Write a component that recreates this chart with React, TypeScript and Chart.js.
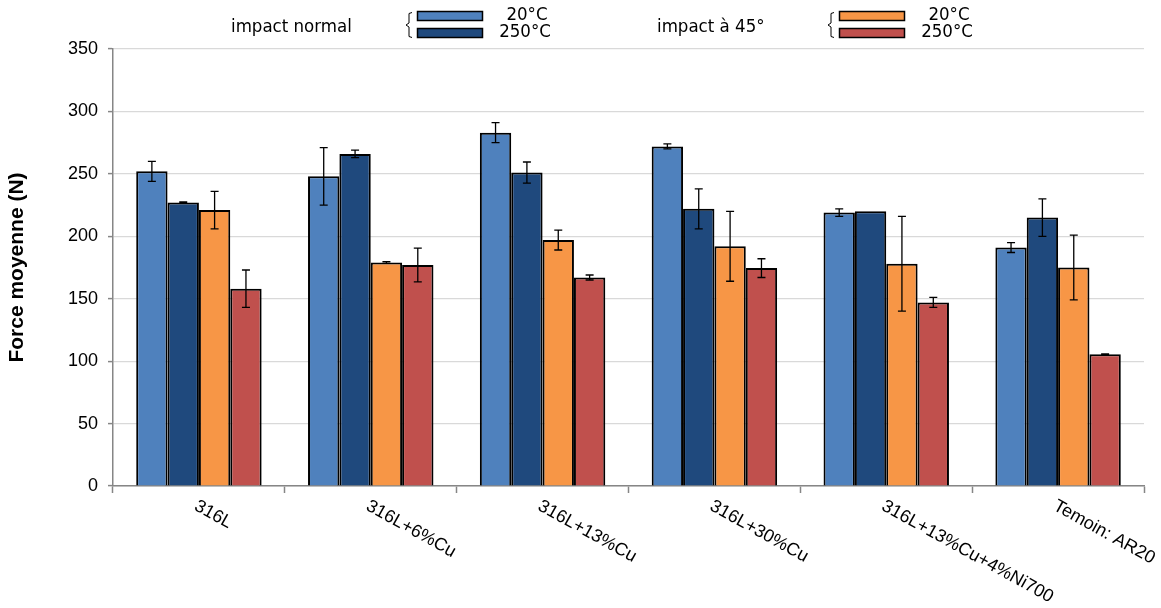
import { useEffect, useRef } from "react";
import { Chart, registerables } from "chart.js";

Chart.register(...registerables);

const categories = ["316L", "316L+6%Cu", "316L+13%Cu", "316L+30%Cu", "316L+13%Cu+4%Ni700", "Temoin: AR20"];
const normal20 = [252, 248, 283, 272, 219, 191];
const normal20Err = [8, 23, 8, 2, 3, 4];
const normal250 = [227, 266, 251, 222, 220, 215];
const normal250Err = [0.5, 3, 8.5, 16, 0, 15];
const angle20 = [221, 179, 197, 192, 178, 175];
const angle20Err = [15, 0.7, 8, 28, 38, 26];
const angle250 = [158, 177, 167, 174.5, 147, 105.5];
const angle250Err = [15, 13.5, 2, 7.5, 4, 0.4];
const yTicks = [0, 50, 100, 150, 200, 250, 300, 350];

const seriesLabels = ["20°C", "250°C", "20°C", "250°C"];
const groupLabels = ["impact normal", "impact à 45°"];
const colors = ["#4F81BD", "#1F497D", "#F79646", "#C0504D"];
const errors = [normal20Err, normal250Err, angle20Err, angle250Err];

const FONT = "'Liberation Sans', Arial, sans-serif";
const LEGEND_FONT = "'DejaVu Sans Condensed', 'Liberation Sans', Arial, sans-serif";

const errorBarPlugin = {
  id: "errorBars",
  afterDatasetsDraw(chart: any) {
    const ctx = chart.ctx;
    const y = chart.scales.y;
    ctx.save();
    ctx.strokeStyle = "#000";
    ctx.lineWidth = 1.3;
    chart.data.datasets.forEach((ds: any, di: number) => {
      const meta = chart.getDatasetMeta(di);
      meta.data.forEach((bar: any, i: number) => {
        const v = ds.data[i];
        const e = errors[di][i];
        if (!e) return;
        const yt = y.getPixelForValue(v + e);
        const yb = y.getPixelForValue(v - e);
        const x = bar.x;
        ctx.beginPath();
        ctx.moveTo(x, yt);
        ctx.lineTo(x, yb);
        ctx.moveTo(x - 4, yt);
        ctx.lineTo(x + 4, yt);
        ctx.moveTo(x - 4, yb);
        ctx.lineTo(x + 4, yb);
        ctx.stroke();
      });
    });
    ctx.restore();
  },
};

const xLabelPlugin = {
  id: "xLabels",
  afterDraw(chart: any) {
    const ctx = chart.ctx;
    const xs = chart.scales.x;
    const base = chart.chartArea.bottom;
    ctx.save();
    ctx.fillStyle = "#000";
    ctx.font = `18px ${FONT}`;
    ctx.textAlign = "left";
    ctx.textBaseline = "top";
    categories.forEach((c, i) => {
      const x = xs.getPixelForValue(i);
      ctx.save();
      ctx.translate(x + 1, base + 11);
      ctx.rotate((29 * Math.PI) / 180);
      ctx.fillText(c, 0, 0);
      ctx.restore();
    });
    ctx.restore();
  },
};

const legendPlugin = {
  id: "customLegend",
  afterDraw(chart: any) {
    const ctx = chart.ctx;
    ctx.save();
    ctx.fillStyle = "#000";
    ctx.textBaseline = "middle";
    [0, 1].forEach((g) => {
      const dx = g * 422;
      ctx.font = `18.5px ${LEGEND_FONT}`;
      ctx.textAlign = "left";
      ctx.fillStyle = "#000";
      ctx.fillText(groupLabels[g], 231 + g * 426, 27);
      // brace
      ctx.strokeStyle = "#000";
      ctx.lineWidth = 1;
      const bx = 409 + dx;
      ctx.beginPath();
      ctx.moveTo(bx + 3, 12.5);
      ctx.lineTo(bx, 13.5);
      ctx.lineTo(bx, 23);
      ctx.lineTo(bx - 3, 25);
      ctx.lineTo(bx, 27);
      ctx.lineTo(bx, 36.5);
      ctx.lineTo(bx + 3, 37.5);
      ctx.stroke();
      [0, 1].forEach((k) => {
        const si = g * 2 + k;
        const ry = k === 0 ? 11 : 28;
        ctx.fillStyle = colors[si];
        ctx.fillRect(417 + dx, ry, 66, 10);
        ctx.strokeStyle = "#000";
        ctx.lineWidth = 1.5;
        ctx.strokeRect(417.5 + dx, ry + 0.5, 65, 9);
        ctx.fillStyle = "#000";
        ctx.textAlign = "center";
        ctx.font = `18.5px ${LEGEND_FONT}`;
        ctx.fillText(seriesLabels[si], (k === 0 ? 527 : 525) + dx, k === 0 ? 15 : 32);
      });
    });
    ctx.restore();
  },
};

export default function App() {
  const ref = useRef<HTMLCanvasElement | null>(null);
  useEffect(() => {
    if (!ref.current) return;
    const values = [normal20, normal250, angle20, angle250];
    const chart = new Chart(ref.current, {
      type: "bar",
      data: {
        labels: categories,
        datasets: values.map((v, i) => ({
          label: seriesLabels[i],
          data: v,
          backgroundColor: colors[i],
          borderColor: "#000",
          borderWidth: 2,
          barPercentage: 1,
          categoryPercentage: 0.73,
        })),
      },
      options: {
        animation: false,
        responsive: true,
        maintainAspectRatio: false,
        layout: { padding: { top: 49, right: 17, left: 0, bottom: 0 } },
        plugins: { legend: { display: false }, tooltip: { enabled: false }, title: { display: false } },
        scales: {
          x: {
            ticks: { display: false },
            grid: {
              display: true,
              drawOnChartArea: false,
              offset: true,
              tickLength: 7,
              tickColor: "#868686",
              tickWidth: 1.5,
            },
            border: { color: "#868686", width: 1.5 },
            afterFit: (s: any) => {
              s.height = 122;
            },
          },
          y: {
            min: 0,
            max: 350,
            afterBuildTicks: (s: any) => {
              s.ticks = yTicks.map((v) => ({ value: v }));
            },
            ticks: { font: { family: FONT, size: 18 }, color: "#000", padding: 10 },
            grid: { color: "#d9d9d9", lineWidth: 1.2, tickColor: "#868686", tickLength: 5, tickWidth: 1.5 },
            border: { color: "#868686", width: 1.5 },
            title: {
              display: true,
              text: "Force moyenne (N)",
              font: { family: FONT, size: 21, weight: "bold" },
              color: "#000",
              padding: { top: 5, bottom: 0 },
            },
            afterFit: (s: any) => {
              s.width = 113;
            },
          },
        },
      },
      plugins: [errorBarPlugin, xLabelPlugin, legendPlugin],
    });
    return () => chart.destroy();
  }, []);
  return (
    <div style={{ position: "fixed", left: 0, top: 0, width: 1161, height: 608, background: "#fff" }}>
      <canvas ref={ref} />
    </div>
  );
}
